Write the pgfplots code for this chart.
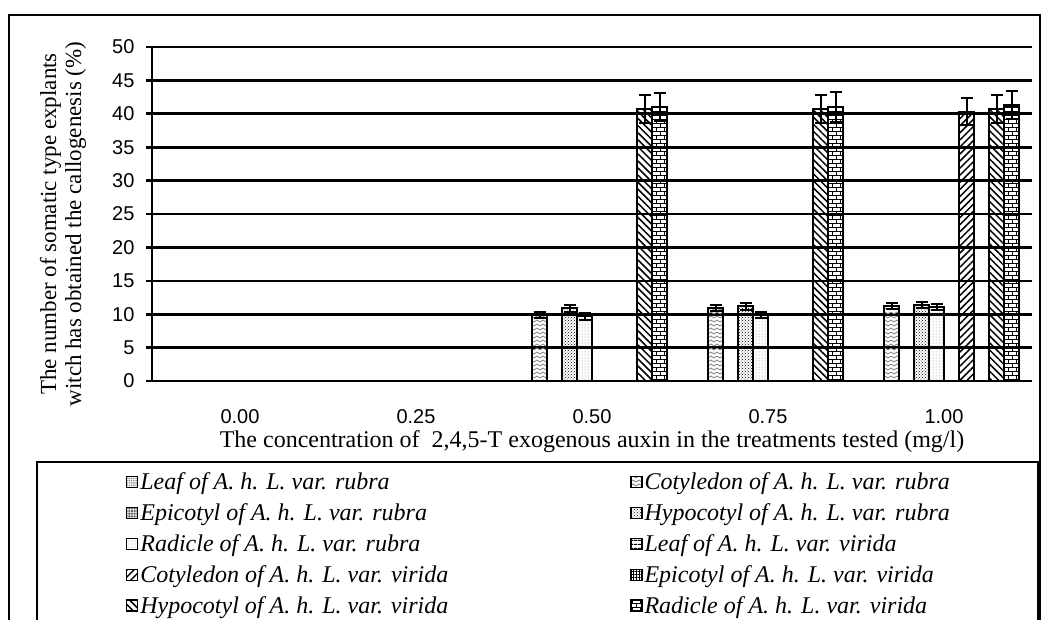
\documentclass[border=0pt]{standalone}
\usepackage{fontspec}
\setmainfont{Liberation Serif}
\newfontfamily\arial{Liberation Sans}
\usepackage{pgfplots}
\pgfplotsset{compat=1.18}
\usetikzlibrary{patterns,patterns.meta}

\pgfdeclarepatternformonly{zigzag}{\pgfpoint{-1pt}{-1pt}}{\pgfpoint{7pt}{5pt}}{\pgfpoint{6pt}{4pt}}{%
 \pgfsetlinewidth{0.8pt}%
 \pgfpathmoveto{\pgfpoint{0pt}{1pt}}%
 \pgfpathlineto{\pgfpoint{3pt}{3pt}}%
 \pgfpathlineto{\pgfpoint{6pt}{1pt}}%
 \pgfusepath{stroke}}
\pgfdeclarepatternformonly{mybricks}{\pgfpoint{-1pt}{-1pt}}{\pgfpoint{9pt}{9pt}}{\pgfpoint{8pt}{8pt}}{%
 \pgfsetlinewidth{0.8pt}%
 \pgfpathmoveto{\pgfpoint{0pt}{0pt}}\pgfpathlineto{\pgfpoint{8pt}{0pt}}%
 \pgfpathmoveto{\pgfpoint{0pt}{4pt}}\pgfpathlineto{\pgfpoint{8pt}{4pt}}%
 \pgfpathmoveto{\pgfpoint{0pt}{0pt}}\pgfpathlineto{\pgfpoint{0pt}{4pt}}%
 \pgfpathmoveto{\pgfpoint{4pt}{4pt}}\pgfpathlineto{\pgfpoint{4pt}{8pt}}%
 \pgfusepath{stroke}}

\newcommand{\lfont}{\itshape\fontsize{24}{24}\selectfont}
\newcommand{\lent}[1]{\makebox[484pt][l]{#1}}

\begin{document}
\begin{tikzpicture}
\useasboundingbox (0pt,0pt) rectangle (1042pt,619pt);
\clip (0pt,0pt) rectangle (1042pt,619pt);
\fill[white] (0pt,0pt) rectangle (1042pt,619pt);
% outer frame and legend box
\draw[line width=2pt] (9pt,-10pt) -- (9pt,604pt) -- (1040pt,604pt) -- (1040pt,-10pt);
\draw[line width=2pt] (37pt,-10pt) -- (37pt,157pt) -- (1038pt,157pt) -- (1038pt,-10pt);
\begin{axis}[
  at={(152pt,238pt)}, anchor=south west,
  scale only axis, width=880pt, height=334pt,
  ybar, bar width=15pt, ybar=0pt,
  xmin=-0.5, xmax=4.5, ymin=0, ymax=50,
  xtick={0,1,2,3,4}, xticklabels={0.00,0.25,0.50,0.75,1.00},
  ytick={0,5,10,15,20,25,30,35,40,45,50},
  yticklabels={0,5,10,15,20,25,30,35,40,45,50},
  axis x line=bottom, axis y line=left,
  axis line style={-, line width=2.6pt},
  xtick style={draw=none},
  ytick style={line width=2.6pt, black},
  tick align=outside, major tick length=6pt,
  ymajorgrids, grid style={black, line width=2.6pt},
  ticklabel style={font=\arial\fontsize{20}{20}\selectfont},
  xticklabel style={yshift=-19pt},
  yticklabel style={xshift=-8pt},
  xlabel={The concentration of\ \ 2,4,5-T exogenous auxin in the treatments tested (mg/l)},
  xlabel style={font=\fontsize{24}{24}\selectfont, at={(axis description cs:0.5,-0.183)}, anchor=center},
  ylabel={The number of somatic type explants\\witch has obtained the callogenesis (\%)},
  ylabel style={font=\fontsize{23}{25}\selectfont, align=center, at={(axis description cs:-0.101,0.47)}, anchor=center},
  every axis plot/.append style={draw=black, line width=2.4pt},
  error bars/y dir=both, error bars/y explicit,
  error bars/error bar style={line width=2pt, black},
  error bars/error mark options={rotate=90, mark size=6pt, line width=2pt, black},
  legend columns=2, legend cell align=left,
  legend style={at={(axis description cs:-0.033,-0.262)}, anchor=north west,
    draw=none, fill=none, font=\lfont, row sep=8.5pt,
    /tikz/every even column/.append style={column sep=4pt}},
  legend image code/.code={\draw[#1,/tikz/.cd,line width=1.2pt] (0pt,-5.5pt) rectangle (11pt,5.5pt);},
]
% 1 Leaf rubra
\addplot[pattern={Dots[distance=1.8pt,radius=0.6pt]}, pattern color=black!55] coordinates {(0,0) +- (0,0) (1,0) +- (0,0) (2,0) +- (0,0) (3,0) +- (0,0) (4,0) +- (0,0)};
% 2 Cotyledon rubra
\addplot[pattern=zigzag, pattern color=gray] coordinates {(0,0) +- (0,0) (1,0) +- (0,0) (2,9.9) +- (0,0.4) (3,10.9) +- (0,0.45) (4,11.2) +- (0,0.45)};
% 3 Epicotyl rubra
\addplot[pattern={Dots[distance=1.6pt,radius=0.65pt]}, pattern color=black!80] coordinates {(0,0) +- (0,0) (1,0) +- (0,0) (2,0) +- (0,0) (3,0) +- (0,0) (4,0) +- (0,0)};
% 4 Hypocotyl rubra
\addplot[pattern=crosshatch dots, pattern color=black] coordinates {(0,0) +- (0,0) (1,0) +- (0,0) (2,10.9) +- (0,0.5) (3,11.2) +- (0,0.5) (4,11.4) +- (0,0.5)};
% 5 Radicle rubra
\addplot[pattern=dots, pattern color=gray] coordinates {(0,0) +- (0,0) (1,0) +- (0,0) (2,9.7) +- (0,0.5) (3,9.9) +- (0,0.45) (4,11.1) +- (0,0.45)};
% 6 Leaf virida
\addplot[pattern={Lines[angle=0,distance=4pt,line width=1.2pt]}] coordinates {(0,0) +- (0,0) (1,0) +- (0,0) (2,0) +- (0,0) (3,0) +- (0,0) (4,0) +- (0,0)};
% 7 Cotyledon virida
\addplot[pattern={Lines[angle=45,distance=5pt,line width=1.5pt]}] coordinates {(0,0) +- (0,0) (1,0) +- (0,0) (2,0) +- (0,0) (3,0) +- (0,0) (4,40.3) +- (0,2.0)};
% 8 Epicotyl virida
\addplot[pattern={Hatch[angle=0,distance=3pt,line width=0.8pt]}] coordinates {(0,0) +- (0,0) (1,0) +- (0,0) (2,0) +- (0,0) (3,0) +- (0,0) (4,0) +- (0,0)};
% 9 Hypocotyl virida
\addplot[pattern={Lines[angle=-45,distance=5pt,line width=1.5pt]}] coordinates {(0,0) +- (0,0) (1,0) +- (0,0) (2,40.7) +- (0,2.1) (3,40.7) +- (0,2.1) (4,40.7) +- (0,2.1)};
% 10 Radicle virida
\addplot[pattern=mybricks] coordinates {(0,0) +- (0,0) (1,0) +- (0,0) (2,41.0) +- (0,2.1) (3,41.0) +- (0,2.2) (4,41.25) +- (0,2.1)};
\legend{\lent{Leaf of A. h. L. var. rubra},\lent{Cotyledon of A. h. L. var. rubra},
\lent{Epicotyl of A. h. L. var. rubra},\lent{Hypocotyl of A. h. L. var. rubra},
\lent{Radicle of A. h. L. var. rubra},\lent{Leaf of A. h. L. var. virida},
\lent{Cotyledon of A. h. L. var. virida},\lent{Epicotyl of A. h. L. var. virida},
\lent{Hypocotyl of A. h. L. var. virida},\lent{Radicle of A. h. L. var. virida}}
\end{axis}
\end{tikzpicture}
\end{document}
